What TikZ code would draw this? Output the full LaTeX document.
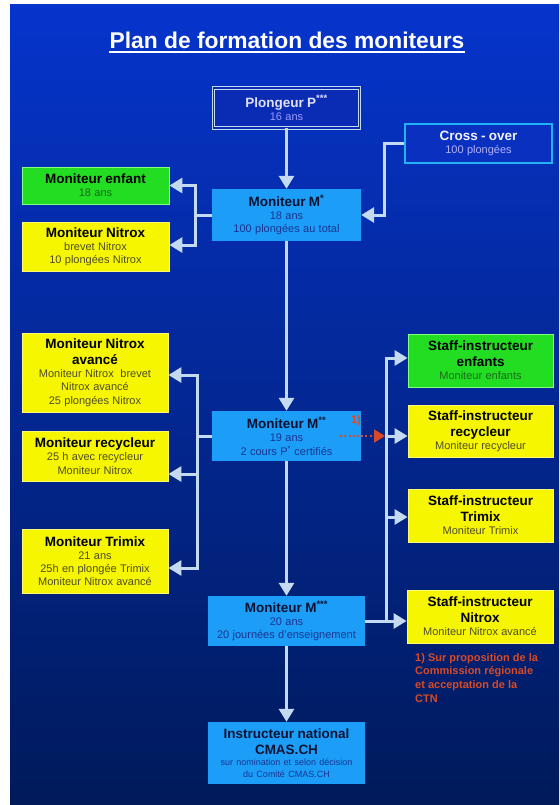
\documentclass[tikz,border=0pt]{standalone}
\usepackage{fontspec}
\setmainfont{Liberation Sans}
\usetikzlibrary{arrows.meta}
\definecolor{bgtop}{HTML}{0634CC}
\definecolor{bgmid}{HTML}{0A2898}
\definecolor{bgbot}{HTML}{001A5A}
\definecolor{lnc}{HTML}{C4DAF0}
\definecolor{cyanf}{HTML}{1C9EF8}
\definecolor{yelf}{HTML}{F6F600}
\definecolor{grnf}{HTML}{22DD22}
\definecolor{redc}{HTML}{D84A26}
\definecolor{plongf}{HTML}{0A2CB4}
\definecolor{crossf}{HTML}{0A30C0}
\definecolor{crossd}{HTML}{22B2F8}
\definecolor{yelsub}{HTML}{4E4C30}
\definecolor{grnsub}{HTML}{1A6A1A}
\definecolor{cyanttl}{HTML}{0A1232}
\definecolor{cyansub}{HTML}{1A3490}
\colorlet{ttlc}{black}
\colorlet{subc}{black}
\newcommand\boxttl[1]{{\fontsize{13.5}{16}\selectfont\bfseries\color{ttlc}#1\par}}
\newcommand\boxsub[1]{{\fontsize{11}{13.2}\selectfont\color{subc}#1\par}}
\newcommand\boxsmall[1]{{\fontsize{9}{11.5}\selectfont\color{subc}#1\par}}
\begin{document}
\begin{tikzpicture}[x=1pt,y=-1pt,
  bx/.style 2 args={text width=#1pt, minimum height=#2pt, inner xsep=0pt, inner ysep=1pt, align=center},
  cyanbox/.style={fill=cyanf, execute at begin node={\colorlet{ttlc}{cyanttl}\colorlet{subc}{cyansub}}},
  yelbox/.style={fill=yelf, draw=yellow!55!white, line width=0.8pt, execute at begin node={\colorlet{ttlc}{black}\colorlet{subc}{yelsub}}},
  grnbox/.style={fill=grnf, draw=green!50!white, line width=0.8pt, execute at begin node={\colorlet{ttlc}{black}\colorlet{subc}{grnsub}}},
  plongbox/.style={fill=plongf, draw=lnc, double=plongf, double distance=1.6pt, line width=0.9pt, execute at begin node={\colorlet{ttlc}{white!88!blue}\colorlet{subc}{white!60!blue}}},
  crossbox/.style={fill=crossf, draw=crossd, line width=2pt, execute at begin node={\colorlet{ttlc}{white!95!blue}\colorlet{subc}{white!70!blue}}},
  conn/.style={draw=lnc, line width=3pt, -{Triangle[length=13pt,width=15pt]}},
  lnk/.style={draw=lnc, line width=3pt},
  reddot/.style={draw=redc, line width=2pt, dash pattern=on 2pt off 2.2pt, -{Triangle[length=11pt,width=13pt]}},
  redtxt/.style={text=redc, font=\fontsize{11}{13.7}\selectfont\bfseries, inner sep=0pt}
]
\useasboundingbox (0,0) rectangle (559,805);
\fill[white] (0,0) rectangle (559,805);
\shade[top color=bgtop, middle color=bgmid, bottom color=bgbot] (10,5) rectangle (559,805);

% title
\node[font=\fontsize{22.8}{26}\selectfont\bfseries, text=white, inner sep=0pt, anchor=base] (title) at (287,49) {Plan de formation des moniteurs};
\draw[white, line width=1.6pt] ([yshift=-3pt]title.base west) -- ([yshift=-3pt]title.base east);

% top
\node[plongbox, bx={146}{40}] (plong) at (286.5,108) {\boxttl{Plongeur P\textsuperscript{***}}\boxsub{16 ans}};
\node[crossbox, bx={147}{39}] (cross) at (478.5,143.5) {\boxttl{Cross - over}\boxsub{100 plongées}};
\node[cyanbox, bx={149}{52}] (m1) at (286.5,215) {\boxttl{Moniteur M\textsuperscript{*}}\boxsub{18 ans}\boxsub{100 plongées au total}};
\node[grnbox, bx={147}{37}] (menf) at (95.5,185.5) {\boxttl{Moniteur enfant}\boxsub{18 ans}};
\node[yelbox, bx={147}{49}] (mnit) at (95.5,246.5) {\boxttl{Moniteur Nitrox}\boxsub{brevet Nitrox}\boxsub{10 plongées Nitrox}};

% middle
\node[cyanbox, bx={149}{50}] (m2) at (286.5,436) {\boxttl{Moniteur M\textsuperscript{**}}\boxsub{19 ans}\boxsub{2 cours P\textsuperscript{*} certifiés}};
\node[yelbox, bx={146}{79}] (mna) at (95,372.5) {\boxttl{Moniteur Nitrox}\boxttl{avancé}\boxsub{Moniteur Nitrox\ \ brevet}\boxsub{Nitrox avancé}\boxsub{25 plongées Nitrox}};
\node[yelbox, bx={146}{50}] (mrec) at (95,456) {\boxttl{Moniteur recycleur}\boxsub{25 h avec recycleur}\boxsub{Moniteur Nitrox}};
\node[yelbox, bx={146}{64}] (mtri) at (95,561) {\boxttl{Moniteur Trimix}\boxsub{21 ans}\boxsub{25h en plongée Trimix}\boxsub{Moniteur Nitrox avancé}};

\node[grnbox, bx={145}{53}] (senf) at (480.5,360.5) {\boxttl{Staff-instructeur}\boxttl{enfants}\boxsub{Moniteur enfants}};
\node[yelbox, bx={145}{52}] (srec) at (480.5,431) {\boxttl{Staff-instructeur}\boxttl{recycleur}\boxsub{Moniteur recycleur}};
\node[yelbox, bx={145}{53}] (stri) at (480.5,515.5) {\boxttl{Staff-instructeur}\boxttl{Trimix}\boxsub{Moniteur Trimix}};
\node[yelbox, bx={146}{53}] (snit) at (480,616.5) {\boxttl{Staff-instructeur}\boxttl{Nitrox}\boxsub{Moniteur Nitrox avancé}};

% bottom
\node[cyanbox, bx={157}{50}] (m3) at (286.5,621) {\boxttl{Moniteur M\textsuperscript{***}}\boxsub{20 ans}\boxsub{20 journées d’enseignement}};
\node[cyanbox, bx={157}{62}] (inst) at (286.5,753) {\boxttl{Instructeur national}\boxttl{CMAS.CH}\boxsmall{sur nomination et selon décision}\boxsmall{du Comité CMAS.CH}};

% connectors
\coordinate (lj1) at (195,215);
\coordinate (lj2) at (197,436);
\coordinate (rj) at (386,621);

\draw[conn] (plong.south) -- (m1.north);
\draw[conn] (cross.west) -- ++(-20,0) |- (m1.east);
\draw[lnk] (m1.west) -- (lj1);
\draw[conn] (lj1) |- (menf.east);
\draw[conn] (lj1) |- ([yshift=1.5pt]mnit.east);
\draw[conn] (m1.south) -- (m2.north);

\draw[lnk] (m2.west) -- (lj2);
\draw[conn] (lj2) |- ([yshift=-2.5pt]mna.east);
\draw[conn] (lj2) |- ([yshift=-18pt]mrec.east);
\draw[conn] (lj2) |- ([yshift=-7pt]mtri.east);
\draw[conn] (m2.south) -- (m3.north);

\draw[conn] (m3.east) -- (m3.east -| snit.west);
\draw[conn] (rj) |- ([yshift=2.5pt]senf.west);
\draw[conn] (rj) |- ([yshift=-5pt]srec.west);
\draw[conn] (rj) |- ([yshift=-1.5pt]stri.west);
\draw[conn] (m3.south) -- (inst.north);

\draw[reddot] ([xshift=-21pt]m2.east) -- ([xshift=-1pt]m2.east -| rj);
\node[redtxt] (n1) at (356,421) {1)};
\node[redtxt, anchor=north west, align=left] (fn) at (415,653) {1) Sur proposition de la\\Commission régionale\\et acceptation de la\\CTN};
\end{tikzpicture}
\end{document}
